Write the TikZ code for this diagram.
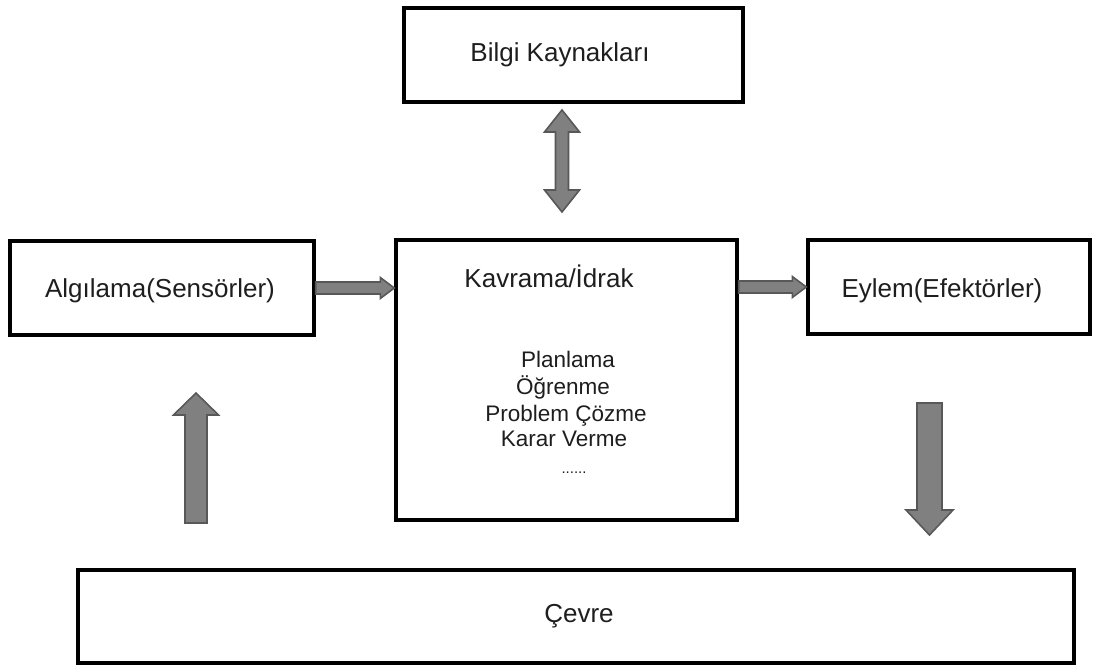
\documentclass[tikz,border=0pt]{standalone}
\usepackage{fontspec}
\setmainfont{Liberation Sans}
\usetikzlibrary{calc}

\definecolor{arrowfill}{HTML}{808080}
\definecolor{arrowedge}{HTML}{585858}
\definecolor{ink}{HTML}{1E1E1E}

% Single block arrow: from, to, shaft half-width, head half-width, head length
\newcommand\blockarrowpath[5]{%
  \path ($(#2)!#5!(#1)$) coordinate (bahead);
  \draw[blockarrow] ($(#1)!#3!90:(#2)$) -- ($(bahead)!#3!90:(#2)$)
    -- ($(bahead)!#4!90:(#2)$) -- (#2) -- ($(bahead)!#4!-90:(#2)$)
    -- ($(bahead)!#3!-90:(#2)$) -- ($(#1)!#3!-90:(#2)$) -- cycle;
}
% Double-headed block arrow: end, end, shaft half-width, head half-width, head length
\newcommand\dblockarrowpath[5]{%
  \path ($(#1)!#5!(#2)$) coordinate (dbaone) ($(#2)!#5!(#1)$) coordinate (dbatwo);
  \draw[blockarrow] (#1) -- ($(dbaone)!#4!90:(#2)$) -- ($(dbaone)!#3!90:(#2)$)
    -- ($(dbatwo)!#3!90:(#2)$) -- ($(dbatwo)!#4!90:(#2)$) -- (#2)
    -- ($(dbatwo)!#4!-90:(#2)$) -- ($(dbatwo)!#3!-90:(#2)$)
    -- ($(dbaone)!#3!-90:(#2)$) -- ($(dbaone)!#4!-90:(#2)$) -- cycle;
}

\begin{document}
\begin{tikzpicture}[x=1pt,y=-1pt,
  box/.style={draw=black, line width=3.4pt, fill=white, inner sep=0pt},
  blockarrow/.style={fill=arrowfill, draw=arrowedge, line width=1.6pt, line join=miter},
  lbl/.style={font=\fontsize{26}{31}\selectfont, text=ink, inner sep=0pt, anchor=base},
  item/.style={font=\fontsize{22.5}{26}\selectfont, text=ink, inner sep=0pt, anchor=base}]

\useasboundingbox (0,0) rectangle (1097,669);

% boxes
\node[box, minimum width=339pt, minimum height=94pt] (bilgi) at (573.5,55) {};
\node[box, minimum width=304pt, minimum height=94pt] (alg) at (162,288) {};
\node[box, minimum width=341pt, minimum height=280pt] (kav) at (566.5,380) {};
\node[box, minimum width=282pt, minimum height=94pt] (eylem) at (949,287) {};
\node[box, minimum width=996pt, minimum height=93pt] (cevre) at (576,616.5) {};

% texts
\node[lbl] (tbilgi) at (560,62) {Bilgi Kaynakları};
\node[lbl] (talg) at (160,297) {Algılama(Sensörler)};
\node[lbl] (tkav) at (549,287) {Kavrama/İdrak};
\node[lbl] (teylem) at (942,297) {Eylem(Efektörler)};
\node[lbl] (tcevre) at (579,622) {Çevre};

\node[item] (i1) at (568,367) {Planlama};
\node[item] (i2) at (563,394) {Öğrenme};
\node[item] (i3) at (566,421) {Problem Çözme};
\node[item] (i4) at (564,446) {Karar Verme};
\node[item, font=\fontsize{15}{18}\selectfont] (i5) at (574,473) {......};

% arrow end points
\coordinate (kbtop) at (562,110);
\coordinate (kbbot) at (562,212);
\coordinate (upfrom) at (196,523);
\coordinate (upto) at (196,393);
\coordinate (dnfrom) at (929.5,403);
\coordinate (dnto) at (929.5,535);

% connectors
\dblockarrowpath{kbtop}{kbbot}{6.5pt}{17.5pt}{22pt}
\blockarrowpath{alg.east}{kav.west |- alg.east}{6pt}{10.5pt}{14pt}
\blockarrowpath{kav.east |- eylem.west}{eylem.west}{6pt}{10.5pt}{14pt}
\blockarrowpath{upfrom}{upto}{11pt}{22.5pt}{22pt}
\blockarrowpath{dnfrom}{dnto}{12.5pt}{23.5pt}{25pt}

\end{tikzpicture}
\end{document}
